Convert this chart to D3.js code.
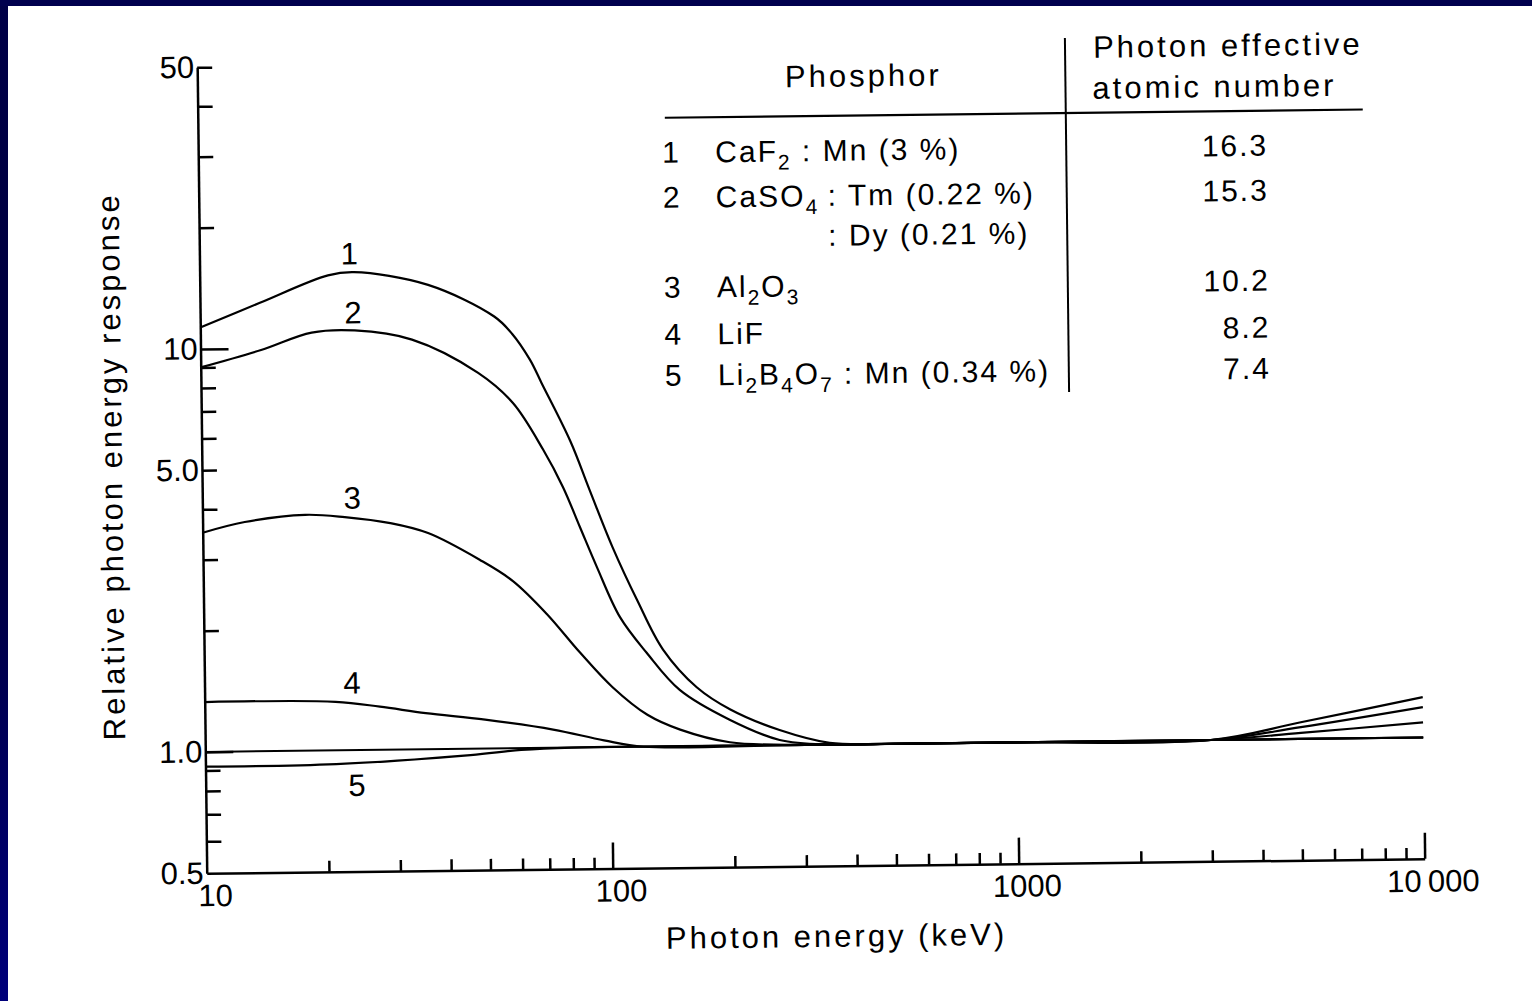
<!DOCTYPE html>
<html>
<head>
<meta charset="utf-8">
<script src="https://cdn.jsdelivr.net/npm/d3@7"></script>
<style>
  html, body { margin: 0; padding: 0; background: #fff; }
  svg { display: block; }
  text { font-family: 'Liberation Sans', Arial, sans-serif; fill: #000; }
  .axis path, .axis line { stroke: #000; stroke-width: 2.5; }
</style>
</head>
<body>
<div id="chart"></div>
<script>
// axis ticks and labels
const energyTicks = [10, 100, 1000, 10000]
const energyTickLabels = ['10', '100', '1000', '10\u2009000']
const energyMajor = [100, 1000, 10000]
const energyMinor = [20, 30, 40, 50, 60, 70, 80, 90, 200, 300, 400, 500, 600, 700, 800, 900,
  2000, 3000, 4000, 5000, 6000, 7000, 8000, 9000]
const responseTicks = [0.5, 1, 5, 10, 50]
const responseTickLabels = ['0.5', '1.0', '5.0', '10', '50']
const responseMajor = [1, 10]
const responseMinor = [0.6, 0.7, 0.8, 0.9, 2, 3, 4, 5, 6, 7, 8, 9, 20, 30, 40, 50]

// curves (keV, relative response)
const curve1Energy = [10, 14, 20.7, 24, 36.5, 53, 58.5, 64.7, 69, 81, 90, 102, 117, 135, 163, 197, 260, 345, 500, 1000, 3000, 5000, 10000]
const curve1Response = [11.3, 12.95, 15.1, 15.35, 14.2, 11.8, 10.7, 9.2, 8.05, 5.75, 4.35, 3.14, 2.31, 1.74, 1.40, 1.23, 1.09, 1.01, 1.0, 1.0, 1.0, 1.10, 1.26]
const curve2Energy = [10, 14.1, 18.8, 24, 33.2, 48.2, 58.6, 69.3, 77.4, 85, 93.3, 106, 123, 148, 196, 260, 350, 500, 1000, 3000, 5000, 10000]
const curve2Response = [9.0, 9.9, 10.9, 11.0, 10.4, 8.56, 7.19, 5.5, 4.43, 3.52, 2.80, 2.10, 1.71, 1.38, 1.16, 1.03, 1.0, 1.0, 1.0, 1.0, 1.07, 1.19]
const curve3Energy = [10, 12.7, 17.9, 22.4, 29, 35.9, 48.1, 57.9, 70, 84.3, 101, 123, 148, 196, 300, 500, 1000, 3000, 5000, 10000]
const curve3Response = [3.5, 3.71, 3.85, 3.79, 3.65, 3.44, 2.94, 2.6, 2.15, 1.72, 1.41, 1.2, 1.1, 1.02, 1.0, 1.0, 1.0, 1.0, 1.035, 1.09]
const curve4Energy = [10, 21, 27, 35, 49, 72, 96, 120, 300, 1000, 3000, 10000]
const curve4Response = [1.33, 1.32, 1.28, 1.23, 1.18, 1.11, 1.04, 1.0, 1.0, 1.0, 1.0, 1.0]
const curve5Energy = [10, 21, 45, 60, 80, 300, 1000, 3000, 10000]
const curve5Response = [0.92, 0.925, 0.965, 0.99, 1.0, 1.0, 1.0, 1.0, 1.0]
const referenceLevel = 1.0

// curve number labels
const curveIds = ['1', '2', '3', '4', '5']
const labelEnergy = [23.4, 23.8, 23.4, 23.1, 23.6]
const labelResponse = [17.1, 12.2, 4.23, 1.47, 0.82]

// table
const phosphorNames = ['CaF_{2} : Mn (3 %)', 'CaSO_{4}', 'Al_{2}O_{3}', 'LiF', 'Li_{2}B_{4}O_{7} : Mn (0.34 %)']
const caso4Dopants = [': Tm (0.22 %)', ': Dy (0.21 %)']
const effectiveZ = ['16.3', '15.3', '10.2', '8.2', '7.4']

const width = 1532
const height = 1001
const svg = d3.select('#chart').append('svg')
  .attr('width', width)
  .attr('height', height)

// slide frame
const grad = svg.append('defs').append('linearGradient')
  .attr('id', 'frame').attr('x1', 0).attr('y1', 0).attr('x2', 0).attr('y2', 1)
grad.append('stop').attr('offset', 0).attr('stop-color', '#000048')
grad.append('stop').attr('offset', 0.5).attr('stop-color', '#00003a')
grad.append('stop').attr('offset', 1).attr('stop-color', '#00007a')
svg.append('rect').attr('x', 0).attr('y', 0).attr('width', 8).attr('height', height).attr('fill', 'url(#frame)')
svg.append('rect').attr('x', 0).attr('y', 0).attr('width', width).attr('height', 6).attr('fill', '#00004e')

// the scanned figure sits slightly rotated
const g = svg.append('g').attr('transform', 'rotate(-0.68, 816, 470)')

const x = d3.scaleLog().domain([10, 10000]).range([202, 1420])
const y = d3.scaleLog().domain([0.5, 50]).range([866, 60])

// y axis
g.append('g').attr('class', 'axis').attr('transform', `translate(${x(10)},0)`)
  .call(d3.axisLeft(y).tickValues(responseMinor).tickSize(-15).tickSizeOuter(0).tickFormat(''))
g.append('g').attr('class', 'axis').attr('transform', `translate(${x(10)},0)`)
  .call(d3.axisLeft(y).tickValues(responseMajor).tickSize(-28).tickSizeOuter(0).tickFormat(''))
  .select('.domain').remove()
g.append('g').attr('transform', `translate(${x(10)},0)`)
  .call(d3.axisLeft(y).tickValues(responseTicks).tickSize(0).tickPadding(3)
    .tickFormat((d, i) => responseTickLabels[i]))
  .call(a => a.select('.domain').remove())
  .selectAll('text')
  .attr('font-size', 31)
  .attr('font-family', 'Liberation Sans, Arial, sans-serif')

// x axis
g.append('g').attr('class', 'axis').attr('transform', `translate(0,${y(0.5)})`)
  .call(d3.axisBottom(x).tickValues(energyMinor).tickSize(-11).tickSizeOuter(0).tickFormat(''))
g.append('g').attr('class', 'axis').attr('transform', `translate(0,${y(0.5)})`)
  .call(d3.axisBottom(x).tickValues(energyMajor).tickSize(-26).tickSizeOuter(0).tickFormat(''))
  .select('.domain').remove()
g.append('g').attr('transform', `translate(0,${y(0.5)})`)
  .call(d3.axisBottom(x).tickValues(energyTicks).tickSize(0).tickPadding(11)
    .tickFormat((d, i) => energyTickLabels[i]))
  .call(a => a.select('.domain').remove())
  .selectAll('text')
  .attr('dx', 8)
  .attr('font-size', 31)
  .attr('font-family', 'Liberation Sans, Arial, sans-serif')

// axis titles
g.append('text')
  .attr('x', 831).attr('y', 947)
  .attr('text-anchor', 'middle')
  .attr('font-size', 31).attr('letter-spacing', 3)
  .text('Photon energy (keV)')
g.append('text')
  .attr('transform', 'translate(122,458) rotate(-90)')
  .attr('text-anchor', 'middle')
  .attr('font-size', 31).attr('letter-spacing', 3)
  .text('Relative photon energy response')

// curves
const line = d3.line()
  .x(d => x(d[0]))
  .y(d => y(d[1]))
  .curve(d3.curveCatmullRom.alpha(0.5))
const curves = [
  d3.zip(curve1Energy, curve1Response),
  d3.zip(curve2Energy, curve2Response),
  d3.zip(curve3Energy, curve3Response),
  d3.zip(curve4Energy, curve4Response),
  d3.zip(curve5Energy, curve5Response)
]
g.append('line')
  .attr('x1', x(10)).attr('x2', x(10000))
  .attr('y1', y(referenceLevel)).attr('y2', y(referenceLevel))
  .attr('stroke', '#000').attr('stroke-width', 2)
g.append('g').selectAll('path')
  .data(curves)
  .enter().append('path')
  .attr('d', line)
  .attr('fill', 'none')
  .attr('stroke', '#000')
  .attr('stroke-width', 2.2)

g.append('g').selectAll('text')
  .data(curveIds)
  .enter().append('text')
  .attr('x', (d, i) => x(labelEnergy[i]))
  .attr('y', (d, i) => y(labelResponse[i]) + 11)
  .attr('text-anchor', 'middle')
  .attr('font-size', 31)
  .text(d => d)

// table
function richText (sel, str) {
  const parts = str.split(/_\{([^}]*)\}/)
  parts.forEach((p, i) => {
    if (p === '') return
    const sub = i % 2 === 1
    sel.append('tspan')
      .attr('dy', sub ? 8 : (i > 0 ? -8 : 0))
      .attr('font-size', sub ? 21 : 30)
      .text(p)
  })
}
const rowBaseline = [161, 206, 296, 343, 384]
const table = g.append('g')
table.append('text').attr('x', 868).attr('y', 87).attr('text-anchor', 'middle')
  .attr('font-size', 31).attr('letter-spacing', 3).text('Phosphor')
table.append('text').attr('x', 1098).attr('y', 61)
  .attr('font-size', 31).attr('letter-spacing', 3).text('Photon effective')
table.append('text').attr('x', 1097).attr('y', 102)
  .attr('font-size', 31).attr('letter-spacing', 3).text('atomic number')
table.append('line').attr('x1', 669).attr('x2', 1367).attr('y1', 116).attr('y2', 116)
  .attr('stroke', '#000').attr('stroke-width', 2.2)
table.append('line').attr('x1', 1070).attr('x2', 1070).attr('y1', 41).attr('y2', 395)
  .attr('stroke', '#000').attr('stroke-width', 2)

const rows = table.append('g').attr('letter-spacing', 2).attr('font-size', 30)
curveIds.forEach((id, i) => {
  rows.append('text').attr('x', 666).attr('y', rowBaseline[i]).text(id)
  rows.append('text').attr('x', 719).attr('y', rowBaseline[i])
    .call(richText, phosphorNames[i])
  rows.append('text').attr('x', 1272).attr('y', rowBaseline[i])
    .attr('text-anchor', 'end').text(effectiveZ[i])
})
caso4Dopants.forEach((t, j) => {
  rows.append('text').attr('x', 831).attr('y', rowBaseline[1] + j * 40).text(t)
})
</script>
</body>
</html>
